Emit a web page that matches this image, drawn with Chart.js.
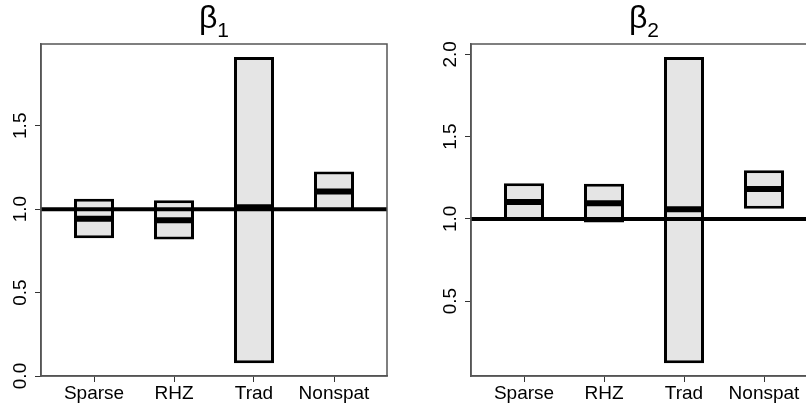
<!DOCTYPE html>
<html>
<head>
<meta charset="utf-8">
<script src="https://cdn.jsdelivr.net/npm/chart.js@4/dist/chart.umd.min.js"></script>
<style>
  html, body { margin: 0; padding: 0; background: #fff; overflow: hidden; }
  .panel { position: absolute; top: 0; width: 403px; height: 404px; overflow: hidden; }
</style>
</head>
<body>
<div class="panel" style="left:0"><canvas id="beta1" width="403" height="404"></canvas></div>
<div class="panel" style="left:403px"><canvas id="beta2" width="420" height="404"></canvas></div>
<script>
// categories shared by both panels
const categories = ['Sparse', 'RHZ', 'Trad', 'Nonspat'];
const positions = [0, 1, 2, 3];

// beta 1 intervals
const b1Lower = [0.826, 0.818, 0.076, 0.990];
const b1Upper = [1.062, 1.054, 1.912, 1.226];
const b1Median = [0.942, 0.934, 1.012, 1.106];
const b1Ticks = [0, 0.5, 1.0, 1.5];

// beta 2 intervals
const b2Lower = [0.988, 0.978, 0.122, 1.061];
const b2Upper = [1.217, 1.213, 1.984, 1.296];
const b2Median = [1.103, 1.095, 1.059, 1.181];
const b2Ticks = [0.5, 1.0, 1.5, 2.0];

// true value line
const refValue = 1.0;

const FONT = 'Liberation Sans, Arial, Helvetica, sans-serif';

// frame, reference line and beta title
const extras = {
    id: 'extras',
    afterDatasetsDraw(chart, args, opts) {
        const {ctx, chartArea: a} = chart;
        const y = chart.scales.y.getPixelForValue(opts.ref);
        ctx.save();
        ctx.strokeStyle = '#000';
        ctx.lineWidth = 4;
        ctx.beginPath();
        ctx.moveTo(a.left, y);
        ctx.lineTo(a.right, y);
        ctx.stroke();

        ctx.strokeStyle = '#555';
        ctx.lineWidth = 1.5;
        ctx.strokeRect(a.left, a.top, a.right - a.left, a.bottom - a.top);

        ctx.fillStyle = '#000';
        ctx.font = '32px ' + FONT;
        const w1 = ctx.measureText('\u03b2').width;
        ctx.font = '21px ' + FONT;
        const w2 = ctx.measureText(opts.sub).width;
        const x0 = (a.left + a.right) / 2 - (w1 + w2) / 2;
        ctx.textBaseline = 'alphabetic';
        ctx.textAlign = 'left';
        ctx.font = '32px ' + FONT;
        ctx.fillText('\u03b2', x0, 28);
        ctx.font = '21px ' + FONT;
        ctx.fillText(opts.sub, x0 + w1, 37);
        ctx.restore();
    }
};

function makePanel(id, lower, upper, median, ticks, yMin, yMax, sub, axisWidth, padRight) {
    new Chart(document.getElementById(id), {
        type: 'bar',
        data: {
            datasets: [{
                type: 'scatter',
                data: positions.map((p, i) => ({x: p, y: median[i]})),
                pointStyle: 'line',
                pointRadius: 20,
                borderWidth: 6,
                borderColor: '#000',
                order: 0
            }, {
                data: positions.map((p, i) => ({x: p, y: [lower[i], upper[i]]})),
                backgroundColor: '#e5e5e5',
                borderColor: '#000',
                borderWidth: 3,
                borderSkipped: false,
                barPercentage: 0.5,
                categoryPercentage: 1,
                order: 1
            }]
        },
        options: {
            responsive: false,
            animation: false,
            events: [],
            layout: { autoPadding: false, padding: { top: 44, right: padRight, left: 0, bottom: 0 } },
            plugins: {
                legend: { display: false },
                tooltip: { enabled: false },
                extras: { ref: refValue, sub: sub }
            },
            scales: {
                x: {
                    type: 'linear',
                    offset: false,
                    min: -0.6625,
                    max: 3.6625,
                    afterBuildTicks: s => { s.ticks = positions.map(v => ({value: v})); },
                    afterFit: s => { s.height = 28; s.paddingLeft = 0; s.paddingRight = 0; },
                    ticks: {
                        callback: v => categories[v],
                        color: '#000',
                        font: { family: FONT, size: 19 },
                        padding: 0,
                        maxRotation: 0,
                        autoSkip: false
                    },
                    grid: { offset: false, drawOnChartArea: false, tickLength: 6, tickColor: '#333' },
                    border: { color: '#555', width: 1.5 }
                },
                y: {
                    min: yMin,
                    max: yMax,
                    afterBuildTicks: s => { s.ticks = ticks.map(v => ({value: v})); },
                    afterFit: s => { s.width = axisWidth; s.paddingTop = 0; s.paddingBottom = 0; },
                    ticks: {
                        callback: v => v.toFixed(1),
                        color: '#000',
                        font: { family: FONT, size: 19 },
                        minRotation: 90,
                        maxRotation: 90,
                        crossAlign: 'center',
                        padding: 1
                    },
                    grid: { drawOnChartArea: false, tickLength: 6, tickColor: '#333' },
                    border: { color: '#555', width: 1.5 }
                }
            }
        },
        plugins: [extras]
    });
}

makePanel('beta1', b1Lower, b1Upper, b1Median, b1Ticks, 0, 1.99, '1', 41, 16);
makePanel('beta2', b2Lower, b2Upper, b2Median, b2Ticks, 0.045, 2.063, '2', 68, 6);
</script>
</body>
</html>
